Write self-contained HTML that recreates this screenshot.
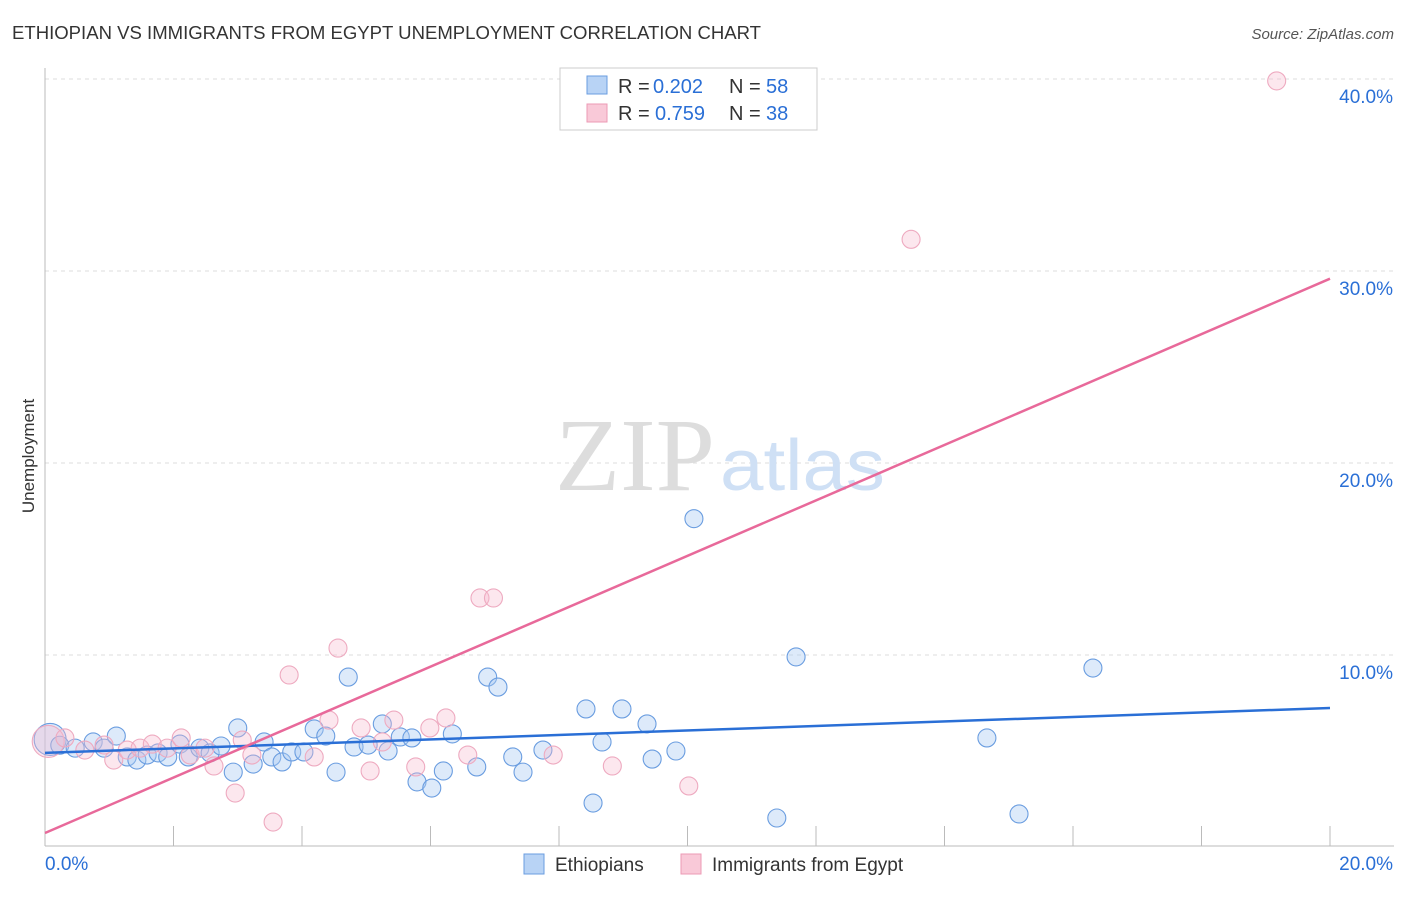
<!DOCTYPE html>
<html><head><meta charset="utf-8"><style>
body{margin:0;background:#fff;font-family:"Liberation Sans",sans-serif;}
</style></head><body>
<svg width="1406" height="892" xmlns="http://www.w3.org/2000/svg">
<text x="12" y="39" font-size="18" fill="#333" textLength="749" lengthAdjust="spacingAndGlyphs">ETHIOPIAN VS IMMIGRANTS FROM EGYPT UNEMPLOYMENT CORRELATION CHART</text>
<text x="1394" y="39" font-size="15" fill="#555" font-style="italic" text-anchor="end">Source: ZipAtlas.com</text>
<text x="34" y="456" font-size="17" fill="#333" text-anchor="middle" transform="rotate(-90 34 456)">Unemployment</text>
<g id="grid"></g>
<text x="555" y="490" font-size="104" fill="#ddd" textLength="160" lengthAdjust="spacingAndGlyphs" font-family="Liberation Serif,serif">ZIP</text>
<text x="720" y="490" font-size="72" fill="#cfe0f5" textLength="165" lengthAdjust="spacingAndGlyphs">atlas</text>
<g id="pts"></g>
<g id="lines"></g>
<g>
<rect x="560" y="68" width="257" height="62" fill="#fff" stroke="#ccc"/>
<rect x="587" y="76" width="20" height="18" fill="#b8d3f5" stroke="#6a9de0"/>
<rect x="587" y="104" width="20" height="18" fill="#f9c9d8" stroke="#ec9ab5"/>
<text y="93" font-size="20" fill="#333"><tspan x="618">R =</tspan><tspan x="653" fill="#2a6fd6">0.202</tspan><tspan x="729">N =</tspan><tspan x="766" fill="#2a6fd6">58</tspan></text>
<text y="120" font-size="20" fill="#333"><tspan x="618">R =</tspan><tspan x="655" fill="#2a6fd6">0.759</tspan><tspan x="729">N =</tspan><tspan x="766" fill="#2a6fd6">38</tspan></text>
</g>
<g>
<rect x="524" y="854" width="20" height="20" fill="#b8d3f5" stroke="#6a9de0"/>
<text x="555" y="871" font-size="19" fill="#333">Ethiopians</text>
<rect x="681" y="854" width="20" height="20" fill="#f9c9d8" stroke="#ec9ab5"/>
<text x="712" y="871" font-size="19" fill="#333">Immigrants from Egypt</text>
</g>
</svg>
<script>
const xTicks=[0,20];
const yTicks=[10,20,30,40];
const blueX=[0.08,0.23,0.47,0.75,0.92,1.11,1.28,1.43,1.59,1.76,1.91,2.1,2.23,2.41,2.57,2.74,2.93,3.0,3.24,3.41,3.53,3.69,3.84,4.03,4.19,4.37,4.53,4.72,4.81,5.03,5.25,5.34,5.53,5.71,5.79,6.02,6.2,6.34,6.72,6.89,7.05,7.28,7.44,7.75,8.42,8.53,8.67,8.98,9.37,9.45,9.82,10.1,11.39,11.69,14.66,15.16,16.31];
const blueY=[5.6,5.3,5.15,5.47,5.15,5.78,4.69,4.53,4.79,4.9,4.69,5.36,4.69,5.15,4.9,5.26,3.9,6.2,4.32,5.47,4.69,4.43,4.95,4.95,6.15,5.78,3.9,8.85,5.21,5.31,6.41,5.0,5.73,5.68,3.39,3.07,3.96,5.89,4.17,8.85,8.33,4.69,3.9,5.05,7.19,2.29,5.47,7.19,6.41,4.58,5.0,17.1,1.51,9.9,5.68,1.72,9.32];
const pinkX=[0.05,0.31,0.62,0.92,1.07,1.28,1.48,1.67,1.9,2.12,2.26,2.49,2.63,2.96,3.07,3.22,3.55,3.8,4.19,4.42,4.56,4.92,5.06,5.25,5.43,5.77,5.99,6.24,6.58,6.77,6.98,7.91,8.83,10.02,13.48,19.17];
const pinkY=[5.5,5.68,5.05,5.31,4.53,5.05,5.15,5.36,5.15,5.68,4.79,5.15,4.22,2.81,5.57,4.79,1.3,8.96,4.69,6.61,10.36,6.2,3.96,5.47,6.61,4.17,6.2,6.72,4.79,12.97,12.97,4.79,4.22,3.18,31.65,39.9];
const blueLine=[4.9,7.24];
const pinkLine=[0.73,29.6];
const NS='http://www.w3.org/2000/svg';
const X=v=>45+v/20*1285, Y=v=>847-v*19.2;
function mk(t,a,p){const e=document.createElementNS(NS,t);for(const k in a)e.setAttribute(k,a[k]);p.appendChild(e);return e;}
const g=document.getElementById('grid');
yTicks.forEach(t=>{const l=mk('line',{x1:45,x2:1394,y1:Y(t),y2:Y(t),stroke:'#ddd','stroke-dasharray':'4,4'},g);


const tx=mk('text',{x:1393,y:Y(t)+24,'font-size':19,fill:'#2a6fd6','text-anchor':'end'},g);tx.textContent=t.toFixed(1)+'%';

});
mk('line',{x1:45,x2:45,y1:68,y2:846,stroke:'#bbb'},g);
mk('line',{x1:45,x2:1394,y1:846,y2:846,stroke:'#bbb'},g);
for(let i=1;i<=10;i++){mk('line',{x1:X(i*2),x2:X(i*2),y1:826,y2:846,stroke:'#bbb'},g);}
xTicks.forEach((t,i)=>{const tx=mk('text',{x:i?1393:45,y:870,'font-size':19,fill:'#2a6fd6','text-anchor':i?'end':'start'},g);tx.textContent=t.toFixed(1)+'%';

});
const p=document.getElementById('pts');
blueX.forEach((x,i)=>{const c=mk('circle',{cx:X(x),cy:Y(blueY[i]),r:i==0?16:9,fill:'rgba(170,202,242,0.4)',stroke:'#6a9de0','stroke-width':1.1},p);

});
pinkX.forEach((x,i)=>{const c=mk('circle',{cx:X(x),cy:Y(pinkY[i]),r:i==0?16:9,fill:'rgba(246,185,205,0.35)',stroke:'#eeaac0','stroke-width':1.1},p);

});
const L=document.getElementById('lines');
const bl=mk('line',{x1:X(0),y1:Y(blueLine[0]),x2:X(20),y2:Y(blueLine[1]),stroke:'#2a6fd6','stroke-width':2.5},L);


const pl=mk('line',{x1:X(0),y1:Y(pinkLine[0]),x2:X(20),y2:Y(pinkLine[1]),stroke:'#e8699a','stroke-width':2.5},L);


</script>
</body></html>
